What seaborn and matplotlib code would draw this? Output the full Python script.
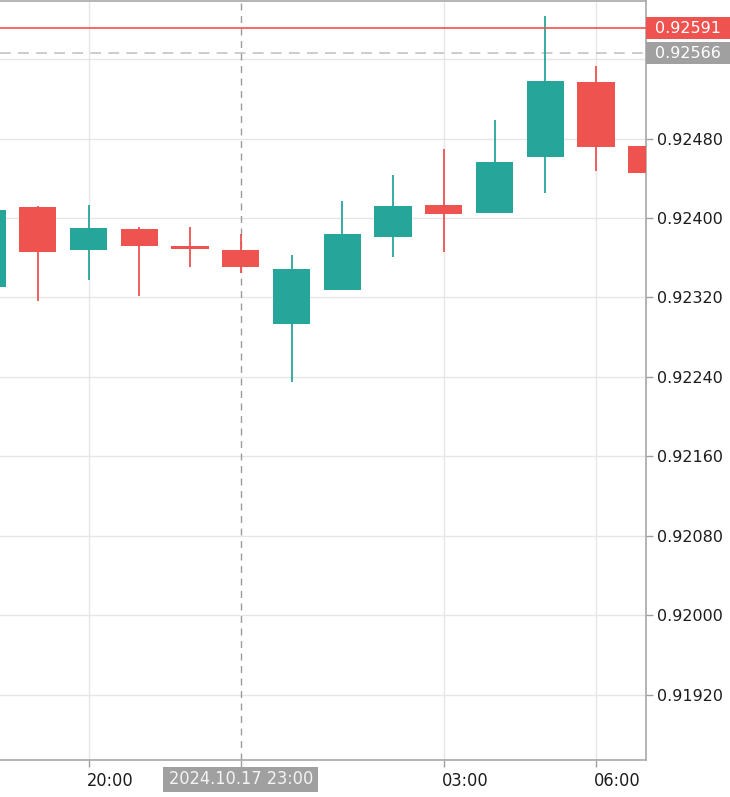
import matplotlib
matplotlib.use("Agg")
import matplotlib.pyplot as plt
import matplotlib.transforms as mtransforms
from matplotlib.patches import Rectangle
import numpy as np
import pandas as pd
import seaborn as sns

# ---- data (hourly candles, 2024.10.17 18:00 -> 2024.10.18 07:00) ----
hours = [18, 19, 20, 21, 22, 23, 24, 25, 26, 27, 28, 29, 30, 31]
opens = [0.92331, 0.92411, 0.92368, 0.92389, 0.92372, 0.92368, 0.92293,
         0.92328, 0.92381, 0.92413, 0.92405, 0.92461, 0.92537, 0.92473]
highs = [0.92415, 0.92412, 0.92413, 0.92391, 0.92391, 0.92384, 0.92363,
         0.92417, 0.92443, 0.92470, 0.92499, 0.92603, 0.92553, 0.92495]
lows = [0.92320, 0.92316, 0.92338, 0.92321, 0.92351, 0.92345, 0.92235,
        0.92328, 0.92361, 0.92366, 0.92405, 0.92425, 0.92447, 0.92433]
closes = [0.92408, 0.92366, 0.92390, 0.92372, 0.92369, 0.92351, 0.92349,
          0.92384, 0.92412, 0.92404, 0.92456, 0.92538, 0.92472, 0.92445]

last_price = 0.92591
ref_price = 0.92566
price_ticks = [0.91920, 0.92000, 0.92080, 0.92160, 0.92240, 0.92320, 0.92400, 0.92480, 0.92560]
price_tick_labels = ["0.91920", "0.92000", "0.92080", "0.92160", "0.92240",
                     "0.92320", "0.92400", "0.92480", ""]
time_ticks = [20, 23, 27, 30]
time_tick_labels = ["20:00", "", "03:00", "06:00"]
crosshair_hour = 23
crosshair_label = "2024.10.17 23:00"

df = pd.DataFrame({"hour": hours, "open": opens, "high": highs,
                   "low": lows, "close": closes})

UP = "#26a69a"
DOWN = "#ef5350"

sns.set_theme(style="white")
plt.rcParams["font.family"] = ["DejaVu Sans"]

W, H = 730, 797
fig = plt.figure(figsize=(W / 100, H / 100), dpi=100)
ax_left, ax_right, ax_top, ax_bot = 0, 646, 1, 760
ax = fig.add_axes([ax_left / W, 1 - ax_bot / H, (ax_right - ax_left) / W, (ax_bot - ax_top) / H])
ax.set_facecolor("white")

colors = [UP if c >= o else DOWN for o, c in zip(df["open"], df["close"])]

# wicks
ax.vlines(df["hour"], df["low"], df["high"], colors=colors, linewidth=1.3, zorder=3)
# bodies
bottoms = np.minimum(df["open"], df["close"])
heights = np.maximum(np.abs(df["close"] - df["open"]), 0.000025)
ax.bar(df["hour"], heights, bottom=bottoms, width=0.73, color=colors,
       linewidth=0, zorder=4)

ax.set_xlim(18.256, 30.985)
ax.set_ylim(0.918541, 0.926186)

# grid
ax.set_yticks(price_ticks)
ax.set_yticklabels(price_tick_labels)
ax.set_xticks(time_ticks)
ax.set_xticklabels(time_tick_labels)
ax.grid(True, color="#e6e6e6", linewidth=1.0)
ax.set_axisbelow(True)
for gl, t in zip(ax.get_xgridlines(), time_ticks):
    if t == crosshair_hour:
        gl.set_visible(False)

ax.yaxis.tick_right()
ax.tick_params(axis="y", right=True, length=5, width=1, color="#a0a0a0",
               pad=3, labelsize=11.5, labelcolor="#1c1c1c")
ax.tick_params(axis="x", bottom=True, length=5, width=1, color="#a0a0a0",
               pad=4, labelsize=13, labelcolor="#1c1c1c")
shift = mtransforms.ScaledTranslation(-2 / 100, 0, fig.dpi_scale_trans)
for lbl in ax.get_xticklabels():
    lbl.set_ha("left")
    lbl.set_fontstretch("condensed")
    lbl.set_transform(lbl.get_transform() + shift)

ax.spines["left"].set_visible(False)
for side in ["right", "bottom", "top"]:
    ax.spines[side].set_color("#a8a8a8")
    ax.spines[side].set_linewidth(1.2)

# price lines
ax.axhline(last_price, color=DOWN, linewidth=1.2, zorder=5)
ax.axhline(ref_price, color="#c8c8c8", linewidth=1.3, dashes=(6, 4), zorder=2)
# crosshair vertical
ax.axvline(crosshair_hour, color="#9a9a9a", linewidth=1.0, dashes=(5, 4), zorder=2)

# price label boxes on right axis
trans_y = mtransforms.blended_transform_factory(ax.transAxes, ax.transData)
box_w = (W - ax_right) / (ax_right - ax_left)
px_per_unit = (ax_bot - ax_top) / (0.926186 - 0.918541)
box_h = 22 / px_per_unit
for price, fc in [(last_price, DOWN), (ref_price, "#a0a0a0")]:
    ax.add_patch(Rectangle((1.0, price - box_h / 2), box_w, box_h, transform=trans_y,
                           facecolor=fc, edgecolor="none", clip_on=False, zorder=10))
    ax.text(1.0 + 9 / (ax_right - ax_left), price, f"{price:.5f}", transform=trans_y,
            ha="left", va="center", color="white", fontsize=11.5, zorder=11, clip_on=False)

# crosshair time label box
trans_x = mtransforms.blended_transform_factory(ax.transData, ax.transAxes)
hour_px = (ax_right - ax_left) / (30.985 - 18.256)
bw = 155 / hour_px
ax.add_patch(Rectangle((crosshair_hour - bw / 2, -(792 - ax_bot) / (ax_bot - ax_top)), bw,
                       25 / (ax_bot - ax_top), transform=trans_x, facecolor="#a0a0a0",
                       edgecolor="none", clip_on=False, zorder=10))
ax.text(crosshair_hour, -(779.5 - ax_bot) / (ax_bot - ax_top), crosshair_label,
        transform=trans_x, ha="center", va="center", color="#f4f4f4", fontsize=13,
        fontstretch="condensed", zorder=11, clip_on=False)

fig.savefig("out.png", dpi=100)
